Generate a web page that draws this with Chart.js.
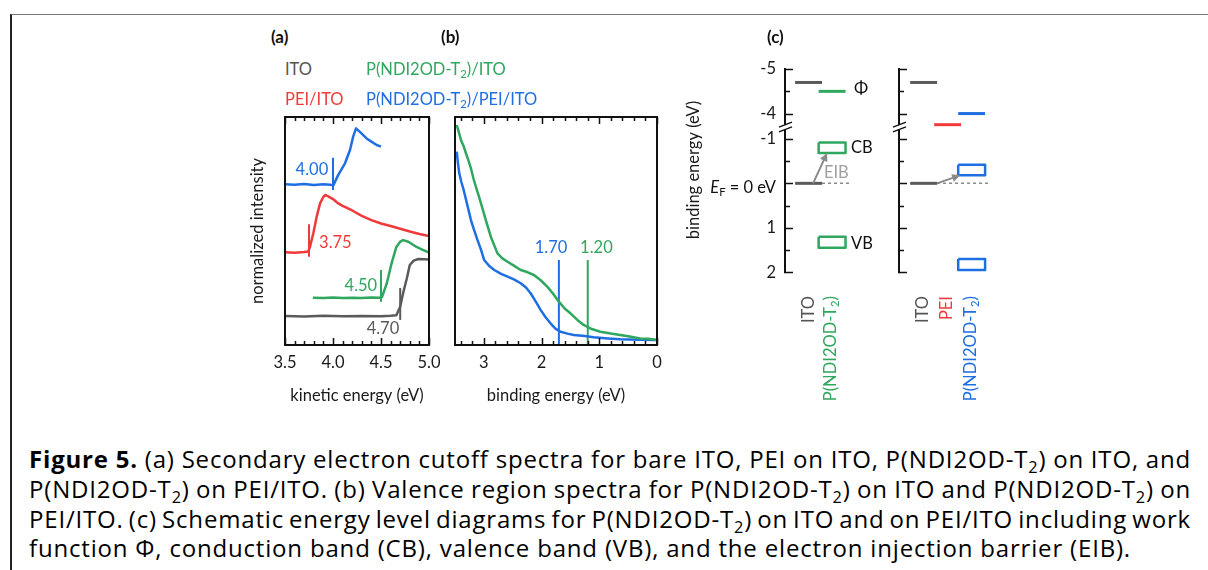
<!DOCTYPE html>
<html>
<head>
<meta charset="utf-8">
<script src="https://cdn.jsdelivr.net/npm/chart.js@4.4.1/dist/chart.umd.min.js"></script>
<style>
  body { margin:0; width:1208px; height:570px; background:#fff; position:relative; overflow:hidden; font-family:Lato, sans-serif; color:#111; }
  canvas { position:absolute; }
  .t { position:absolute; white-space:nowrap; font-size:16.5px; line-height:20px; }
  .t sub, .rot sub, .cap sub { font-size:0.68em; vertical-align:-0.3em; line-height:0; }
  .pl { font-weight:bold; font-size:17px; }
  .rot { position:absolute; width:130px; text-align:right; font-size:16.5px; line-height:18px; white-space:nowrap; transform-origin:0 0; transform:rotate(-90deg); }
  .cap { position:absolute; left:29px; width:1162px; font-family:"Open Sans", sans-serif; font-size:24px; line-height:30px; white-space:nowrap; color:#000; }
  .frame { position:absolute; left:10px; top:14px; width:1400px; height:800px; border-left:2px solid #222; border-top:1px solid #777; }
</style>
</head>
<body>
<div class="frame"></div>

<canvas id="cA" width="200" height="300" style="left:240px;top:110px"></canvas>
<canvas id="cB" width="230" height="300" style="left:440px;top:110px"></canvas>
<canvas id="cC" width="330" height="260" style="left:680px;top:40px"></canvas>

<div class="t pl" style="left:271px;top:27px">(a)</div>
<div class="t pl" style="left:441px;top:27px">(b)</div>
<div class="t pl" style="left:767px;top:27px">(c)</div>

<div class="t" style="left:285px;top:59px;color:#555">ITO</div>
<div class="t" style="left:366px;top:59px;color:#2fa75e">P(NDI2OD-T<sub>2</sub>)/ITO</div>
<div class="t" style="left:285px;top:89px;color:#f03a3a">PEI/ITO</div>
<div class="t" style="left:366px;top:89px;color:#1f6fe2">P(NDI2OD-T<sub>2</sub>)/PEI/ITO</div>

<div class="t" style="right:432px;top:177px"><i>E</i><sub>F</sub> = 0 eV</div>

<div class="rot" style="left:799px;top:426px;color:#555">ITO</div>
<div class="rot" style="left:821px;top:426px;color:#2fa75e">P(NDI2OD-T<sub>2</sub>)</div>
<div class="rot" style="left:913px;top:426px;color:#555">ITO</div>
<div class="rot" style="left:937px;top:426px;color:#f03a3a">PEI</div>
<div class="rot" style="left:961px;top:426px;color:#1f6fe2">P(NDI2OD-T<sub>2</sub>)</div>

<div class="cap j" style="top:444px"><span><b>Figure 5.</b> (a) Secondary electron cutoff spectra for bare ITO, PEI on ITO, P(NDI2OD-T<sub>2</sub>) on ITO, and</span></div>
<div class="cap j" style="top:474px"><span>P(NDI2OD-T<sub>2</sub>) on PEI/ITO. (b) Valence region spectra for P(NDI2OD-T<sub>2</sub>) on ITO and P(NDI2OD-T<sub>2</sub>) on</span></div>
<div class="cap j" style="top:504px"><span>PEI/ITO. (c) Schematic energy level diagrams for P(NDI2OD-T<sub>2</sub>) on ITO and on PEI/ITO including work</span></div>
<div class="cap" id="capLast" style="top:533px"><span>function Φ, conduction band (CB), valence band (VB), and the electron injection barrier (EIB).</span></div>

<script>
const GRAY = '#5a5a5a', GREEN = '#2fa75e', RED = '#f03a3a', BLUE = '#1f6fe2';

// (a) secondary electron cutoff spectra, kinetic energy (eV) vs normalized intensity (offset)
const itoKE = [3.50, 3.70, 3.90, 4.10, 4.30, 4.50, 4.60, 4.66, 4.70, 4.73, 4.77, 4.80, 4.84, 4.89, 4.95, 5.00];
const itoSE = [0.127, 0.125, 0.128, 0.126, 0.127, 0.126, 0.128, 0.130, 0.168, 0.227, 0.294, 0.351, 0.370, 0.377, 0.376, 0.375];
const polyItoKE = [3.79, 3.90, 4.00, 4.10, 4.20, 4.30, 4.40, 4.48, 4.51, 4.56, 4.61, 4.66, 4.70, 4.73, 4.785, 4.87, 4.93, 5.00];
const polyItoSE = [0.207, 0.206, 0.208, 0.206, 0.207, 0.206, 0.208, 0.207, 0.210, 0.270, 0.358, 0.430, 0.453, 0.460, 0.453, 0.430, 0.418, 0.405];
const peiKE = [3.50, 3.60, 3.70, 3.743, 3.76, 3.795, 3.83, 3.865, 3.90, 3.917, 3.95, 4.00, 4.055, 4.10, 4.20, 4.30, 4.40, 4.50, 4.60, 4.70, 4.80, 4.90, 5.00];
const peiSE = [0.407, 0.405, 0.408, 0.410, 0.430, 0.490, 0.563, 0.621, 0.650, 0.658, 0.652, 0.640, 0.621, 0.610, 0.590, 0.566, 0.548, 0.533, 0.522, 0.510, 0.498, 0.487, 0.478];
const polyPeiKE = [3.50, 3.60, 3.70, 3.80, 3.90, 3.97, 4.003, 4.055, 4.125, 4.177, 4.21, 4.24, 4.28, 4.35, 4.40, 4.455, 4.50];
const polyPeiSE = [0.705, 0.703, 0.706, 0.702, 0.705, 0.703, 0.700, 0.746, 0.797, 0.855, 0.914, 0.950, 0.935, 0.906, 0.892, 0.877, 0.870];
// cutoff markers: ITO, P(NDI2OD-T2)/ITO, PEI/ITO, P(NDI2OD-T2)/PEI/ITO
const cutoffKE = [4.70, 4.50, 3.75, 4.00];
const cutoffLow = [0.110, 0.190, 0.387, 0.680];
const cutoffHigh = [0.250, 0.329, 0.530, 0.821];
const keTicks = [3.5, 4.0, 4.5, 5.0];
const keMinor = [3.6, 3.7, 3.8, 3.9, 4.1, 4.2, 4.3, 4.4, 4.6, 4.7, 4.8, 4.9];

// (b) valence region spectra, binding energy (eV)
const vbPolyItoBE = [3.47, 3.43, 3.397, 3.35, 3.31, 3.27, 3.224, 3.18, 3.138, 3.09, 3.05, 2.966, 2.88, 2.764, 2.68, 2.59, 2.48, 2.362, 2.25, 2.133, 2.02, 1.902, 1.80, 1.70, 1.60, 1.50, 1.38, 1.27, 1.13, 0.983, 0.80, 0.638, 0.45, 0.293, 0.15, 0.0];
const vbPolyItoI = [0.965, 0.930, 0.899, 0.872, 0.840, 0.812, 0.775, 0.730, 0.694, 0.655, 0.621, 0.548, 0.475, 0.402, 0.380, 0.365, 0.348, 0.329, 0.320, 0.307, 0.285, 0.256, 0.225, 0.190, 0.160, 0.139, 0.110, 0.088, 0.070, 0.058, 0.050, 0.044, 0.036, 0.029, 0.027, 0.022];
const vbPolyPeiBE = [3.47, 3.45, 3.426, 3.39, 3.35, 3.28, 3.224, 3.17, 3.11, 3.05, 2.995, 2.90, 2.82, 2.70, 2.59, 2.48, 2.362, 2.27, 2.19, 2.10, 2.017, 1.93, 1.845, 1.76, 1.672, 1.55, 1.443, 1.25, 1.098, 0.85, 0.638, 0.30, 0.0];
const vbPolyPeiI = [0.848, 0.800, 0.753, 0.715, 0.680, 0.607, 0.548, 0.505, 0.460, 0.418, 0.373, 0.345, 0.329, 0.312, 0.300, 0.288, 0.271, 0.252, 0.227, 0.190, 0.154, 0.122, 0.095, 0.072, 0.058, 0.050, 0.044, 0.039, 0.034, 0.029, 0.025, 0.023, 0.022];
const vbOnset = [1.70, 1.20]; // on PEI/ITO, on ITO
const onsetTop = 0.373;
const beTicks = [0, 1, 2, 3];
const beMinor = [0.2, 0.4, 0.6, 0.8, 1.2, 1.4, 1.6, 1.8, 2.2, 2.4, 2.6, 2.8, 3.2, 3.4];

// (c) energy levels, binding energy (eV) relative to E_F
const levelNames = ['ITO', 'P(NDI2OD-T2)', 'ITO', 'PEI', 'P(NDI2OD-T2)'];
const levelCol = [0.98, 1.96, 5.77, 6.77, 7.77];
const levelColor = [GRAY, GREEN, GRAY, RED, BLUE];
const workFunction = [4.70, 4.50, 4.70, 3.75, 4.00];
const cbEdge = [[-0.92, -0.68], [-0.42, -0.18]]; // P(NDI2OD-T2) on ITO, on PEI/ITO
const vbEdge = [[1.20, 1.45], [1.70, 1.95]];
const energyTicks = [-5, -4.5, -4, -1, -0.5, 0, 0.5, 1, 1.5, 2];
const energyLabels = ['-5', '', '-4', '-1', '', '', '', '1', '', '2'];
const energyMajor = [-5, -4, -1, 0, 1, 2];
const bandShift = 2.43;  // axis break between -4 and -1 eV
const toAxis = e => (e < -2 ? e + bandShift : e);

Chart.defaults.font.family = 'Lato, sans-serif';
Chart.defaults.font.size = 16.5;
Chart.defaults.color = '#1a1a1a';
Chart.defaults.animation = false;

const pts = (xs, ys) => xs.map((x, i) => ({ x: x, y: ys[i] }));
const line = (data, color, w, dash) => ({
  data: data, borderColor: color, borderWidth: w || 2.5, pointRadius: 0, tension: 0,
  fill: false, borderDash: dash || [], borderCapStyle: 'butt', borderJoinStyle: 'round'
});

// closed box frame with inward ticks top and bottom
const framePlugin = (major, minor) => ({
  id: 'frame',
  afterDatasetsDraw(chart) {
    const { ctx, chartArea: { left, right, top, bottom }, scales: { x } } = chart;
    ctx.save();
    ctx.strokeStyle = '#111';
    ctx.lineWidth = 1.5;
    const tick = (v, len) => {
      const px = Math.round(x.getPixelForValue(v)) + 0.5;
      ctx.beginPath();
      ctx.moveTo(px, bottom); ctx.lineTo(px, bottom - len);
      ctx.moveTo(px, top); ctx.lineTo(px, top + len);
      ctx.stroke();
    };
    minor.forEach(v => tick(v, 4));
    major.forEach(v => tick(v, 7));
    ctx.lineWidth = 2;
    ctx.strokeRect(left, top, right - left, bottom - top);
    ctx.restore();
  }
});

const textPlugin = items => ({
  id: 'marks',
  afterDatasetsDraw(chart) {
    const { ctx, scales: { x, y } } = chart;
    ctx.save();
    ctx.textBaseline = 'middle';
    items.forEach(t => {
      ctx.font = (t.size || 16.5) + 'px Lato, sans-serif';
      ctx.fillStyle = t.color;
      ctx.textAlign = t.align || 'center';
      ctx.fillText(t.text, x.getPixelForValue(t.x), y.getPixelForValue(t.y));
    });
    ctx.restore();
  }
});

const noLegend = { legend: { display: false }, tooltip: { enabled: false } };

// ---------- (a) ----------
new Chart(document.getElementById('cA'), {
  type: 'line',
  data: {
    datasets: [
      line(pts(itoKE, itoSE), GRAY),
      line(pts(polyItoKE, polyItoSE), GREEN),
      line(pts(peiKE, peiSE), RED),
      line(pts(polyPeiKE, polyPeiSE), BLUE),
      ...cutoffKE.map((e, i) => line([{ x: e, y: cutoffLow[i] }, { x: e, y: cutoffHigh[i] }], [GRAY, GREEN, RED, BLUE][i], 2))
    ]
  },
  options: {
    responsive: false,
    layout: { padding: { left: 0, right: 11, top: 7, bottom: 0 } },
    plugins: noLegend,
    scales: {
      x: {
        type: 'linear', min: 3.5, max: 5.0,
        grid: { display: false, drawTicks: false }, border: { display: false },
        afterBuildTicks: s => { s.ticks = keTicks.map(v => ({ value: v })); },
        afterFit: s => { s.height = 65; s.paddingLeft = 0; s.paddingRight = 0; },
        ticks: { padding: 8, autoSkip: false, maxRotation: 0, callback: v => Number(v).toFixed(1) },
        title: { display: true, text: 'kinetic energy (eV)', padding: { top: 0, bottom: 4 } }
      },
      y: {
        min: 0, max: 1,
        grid: { display: false, drawTicks: false }, border: { display: false },
        ticks: { display: false },
        afterFit: s => { s.width = 45; },
        title: { display: true, text: 'normalized intensity', padding: { top: 8, bottom: 0 } }
      }
    }
  },
  plugins: [
    framePlugin(keTicks, keMinor),
    textPlugin([
      { text: cutoffKE[3].toFixed(2), x: 3.95, y: 0.768, color: BLUE, align: 'right' },
      { text: cutoffKE[2].toFixed(2), x: 3.855, y: 0.447, color: RED, align: 'left' },
      { text: cutoffKE[1].toFixed(2), x: 4.46, y: 0.259, color: GREEN, align: 'right' },
      { text: cutoffKE[0].toFixed(2), x: 4.69, y: 0.07, color: GRAY, align: 'right' }
    ])
  ]
});

// ---------- (b) ----------
new Chart(document.getElementById('cB'), {
  type: 'line',
  data: {
    datasets: [
      line(pts(vbPolyItoBE, vbPolyItoI), GREEN),
      line(pts(vbPolyPeiBE, vbPolyPeiI), BLUE),
      line([{ x: vbOnset[0], y: 0 }, { x: vbOnset[0], y: onsetTop }], BLUE, 2),
      line([{ x: vbOnset[1], y: 0 }, { x: vbOnset[1], y: onsetTop }], GREEN, 2)
    ]
  },
  options: {
    responsive: false,
    layout: { padding: { left: 15, right: 13, top: 7, bottom: 0 } },
    plugins: noLegend,
    scales: {
      x: {
        type: 'linear', min: 0, max: 3.5, reverse: true,
        grid: { display: false, drawTicks: false }, border: { display: false },
        afterBuildTicks: s => { s.ticks = beTicks.map(v => ({ value: v })); },
        afterFit: s => { s.height = 65; s.paddingLeft = 0; s.paddingRight = 0; },
        ticks: { padding: 8, autoSkip: false, maxRotation: 0, callback: v => String(v) },
        title: { display: true, text: 'binding energy (eV)', padding: { top: 0, bottom: 4 } }
      },
      y: { min: 0, max: 1, display: false }
    }
  },
  plugins: [
    framePlugin(beTicks, beMinor),
    textPlugin([
      { text: vbOnset[0].toFixed(2), x: 1.836, y: 0.428, color: BLUE },
      { text: vbOnset[1].toFixed(2), x: 1.05, y: 0.428, color: GREEN }
    ])
  ]
});

// ---------- (c) ----------
const half = 0.56;
const levelSets = workFunction.map((w, i) =>
  line([{ x: levelCol[i] - half, y: toAxis(-w) }, { x: levelCol[i] + half, y: toAxis(-w) }], levelColor[i], 3));
const fermiSets = [0, 2].map(i =>
  line([{ x: levelCol[i] - half, y: 0 }, { x: levelCol[i] + half, y: 0 }], GRAY, 3));
const dashSets = [
  line([{ x: levelCol[0] + half, y: 0 }, { x: 2.71, y: 0 }], '#8a8a8a', 1.5, [3, 3]),
  line([{ x: levelCol[2] + half, y: 0 }, { x: 8.54, y: 0 }], '#8a8a8a', 1.5, [3, 3])
];
const box = (col, e, color) => line([
  { x: col - half, y: e[0] }, { x: col + half, y: e[0] }, { x: col + half, y: e[1] },
  { x: col - half, y: e[1] }, { x: col - half, y: e[0] }], color, 2.5);
const boxSets = [
  box(levelCol[1], cbEdge[0], GREEN), box(levelCol[1], vbEdge[0], GREEN),
  box(levelCol[4], cbEdge[1], BLUE), box(levelCol[4], vbEdge[1], BLUE)
];
const arrows = [
  { from: { x: 1.17, y: 0 }, to: { x: 1.75, y: cbEdge[0][1] } },
  { from: { x: levelCol[2] + half, y: 0 }, to: { x: 7.29, y: cbEdge[1][1] } }
];
const axesX = [0, 4.75];

const energyAxes = {
  id: 'energyAxes',
  afterDatasetsDraw(chart) {
    const { ctx, scales: { x, y } } = chart;
    const yTop = y.getPixelForValue(toAxis(-5));
    const yBot = y.getPixelForValue(toAxis(2));
    const g1 = y.getPixelForValue(-1.32), g2 = y.getPixelForValue(-1.215);
    ctx.save();
    ctx.strokeStyle = '#111';
    axesX.forEach(a => {
      const px = Math.round(x.getPixelForValue(a));
      ctx.lineWidth = 2;
      ctx.beginPath();
      ctx.moveTo(px, yTop - 1); ctx.lineTo(px, g1);
      ctx.moveTo(px, g2); ctx.lineTo(px, yBot + 1);
      ctx.stroke();
      ctx.lineWidth = 1.5;
      energyTicks.forEach(e => {
        const py = Math.round(y.getPixelForValue(toAxis(e))) + 0.5;
        const len = energyMajor.includes(e) ? 8 : 5;
        ctx.beginPath(); ctx.moveTo(px, py); ctx.lineTo(px + len, py); ctx.stroke();
      });
      [g1, g2].forEach(g => {
        ctx.beginPath(); ctx.moveTo(px - 6, g + 2.5); ctx.lineTo(px + 7, g - 2.5); ctx.stroke();
      });
    });
    // electron injection barrier arrows
    ctx.strokeStyle = '#8a8a8a';
    ctx.fillStyle = '#8a8a8a';
    ctx.lineWidth = 2;
    arrows.forEach(a => {
      const x0 = x.getPixelForValue(a.from.x), y0 = y.getPixelForValue(a.from.y);
      const x1 = x.getPixelForValue(a.to.x), y1 = y.getPixelForValue(a.to.y);
      const ang = Math.atan2(y1 - y0, x1 - x0);
      const hl = 8;
      ctx.beginPath(); ctx.moveTo(x0, y0);
      ctx.lineTo(x1 - hl * 0.8 * Math.cos(ang), y1 - hl * 0.8 * Math.sin(ang)); ctx.stroke();
      ctx.beginPath();
      ctx.moveTo(x1, y1);
      ctx.lineTo(x1 - hl * Math.cos(ang) + 4 * Math.sin(ang), y1 - hl * Math.sin(ang) - 4 * Math.cos(ang));
      ctx.lineTo(x1 - hl * Math.cos(ang) - 4 * Math.sin(ang), y1 - hl * Math.sin(ang) + 4 * Math.cos(ang));
      ctx.closePath(); ctx.fill();
    });
    ctx.restore();
  }
};

new Chart(document.getElementById('cC'), {
  type: 'line',
  data: { datasets: [...dashSets, ...levelSets, ...fermiSets, ...boxSets] },
  options: {
    responsive: false,
    layout: { padding: { left: 0, right: 4, top: 15, bottom: 10 } },
    plugins: noLegend,
    scales: {
      x: { type: 'linear', min: 0, max: 9.2, display: false },
      y: {
        type: 'linear', min: -2.8, max: 2.2, reverse: true,
        grid: { display: false, drawTicks: false }, border: { display: false },
        afterBuildTicks: s => { s.ticks = energyTicks.map(e => ({ value: toAxis(e) })); },
        afterFit: s => { s.width = 105; },
        ticks: { padding: 9, autoSkip: false, callback: (v, i) => energyLabels[i] },
        title: { display: true, text: 'binding energy (eV)', padding: { top: 4, bottom: 0 } }
      }
    }
  },
  plugins: [
    energyAxes,
    textPlugin([
      { text: 'Φ', x: 3.17, y: -2.14, color: '#111', size: 17 },
      { text: 'CB', x: 2.75, y: -0.80, color: '#111', align: 'left' },
      { text: 'VB', x: 2.75, y: 1.35, color: '#111', align: 'left' },
      { text: 'EIB', x: 1.62, y: -0.25, color: '#a0a0a0', align: 'left' }
    ])
  ]
});

// caption: fit the last line to its width in the figure, justify the others
const last = document.querySelector('#capLast span');
const spacing = (1102 - last.getBoundingClientRect().width) / last.textContent.length;
document.querySelectorAll('.cap span').forEach(s => { s.style.letterSpacing = spacing + 'px'; });
document.querySelectorAll('.cap.j').forEach(el => {
  const span = el.firstElementChild;
  const gaps = (span.textContent.match(/ /g) || []).length;
  const extra = 1162 - span.getBoundingClientRect().width;
  span.style.wordSpacing = (extra / gaps) + 'px';
});
</script>
</body>
</html>
